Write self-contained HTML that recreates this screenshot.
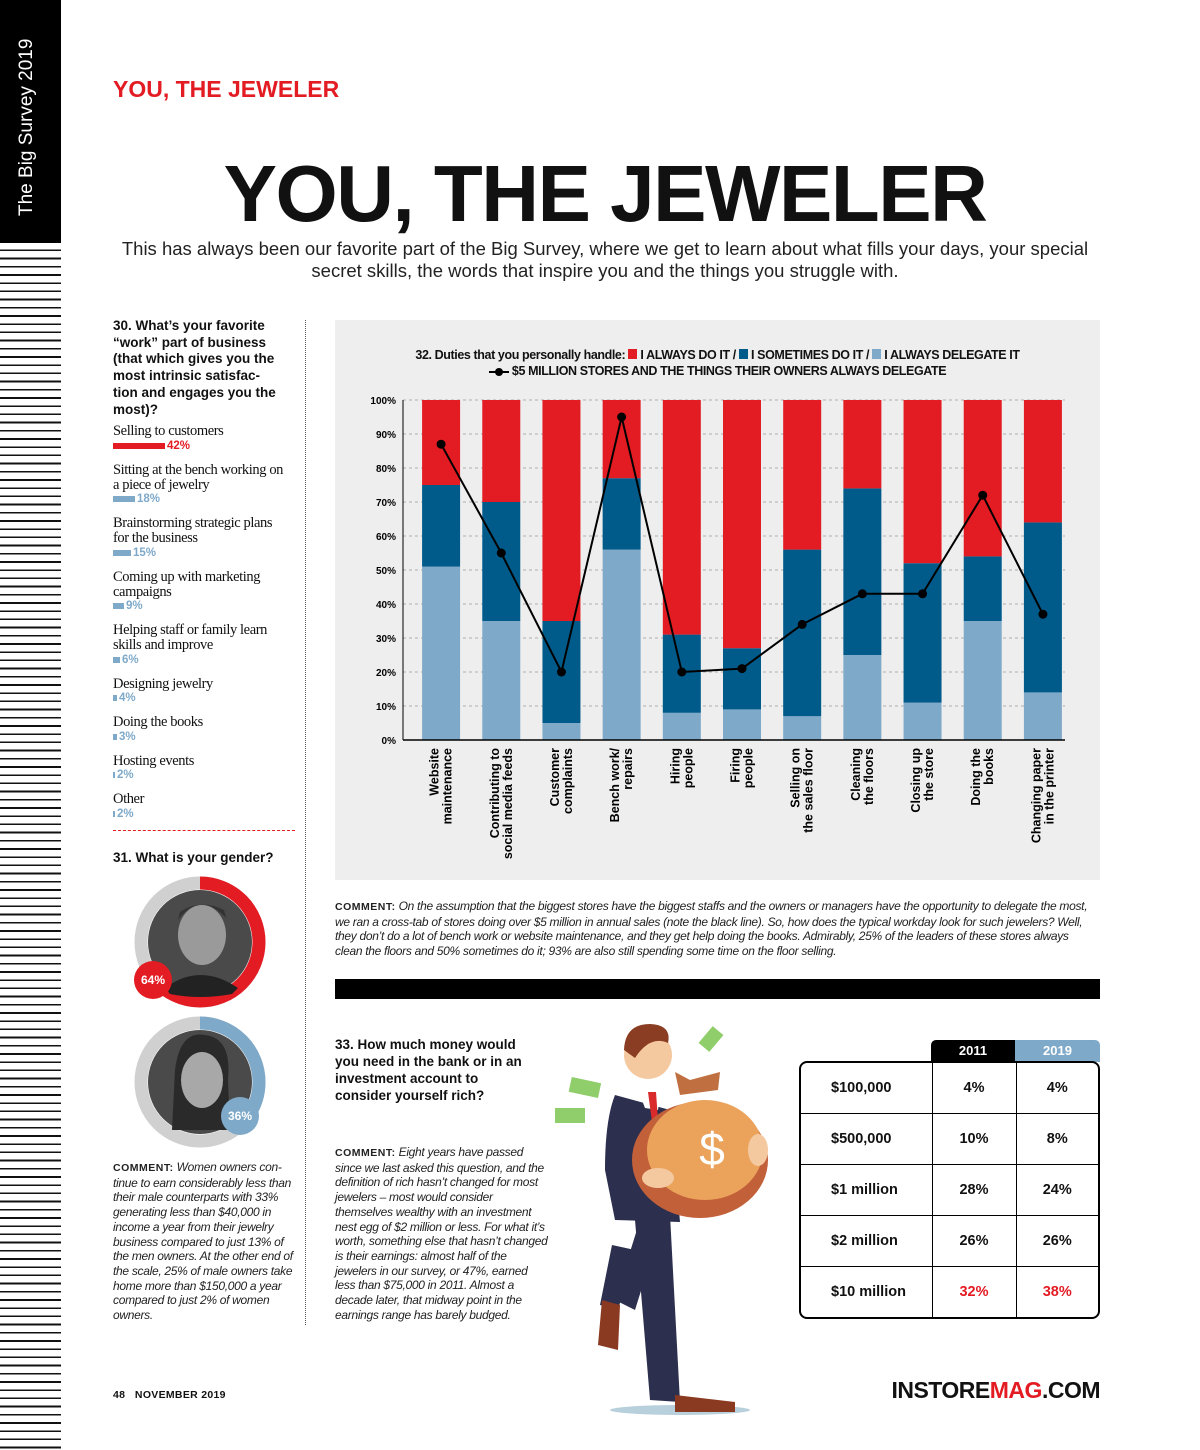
<!DOCTYPE html>
<html><head><meta charset="utf-8">
<style>
*{margin:0;padding:0;box-sizing:border-box}
body{width:1200px;height:1450px;background:#fff;position:relative;overflow:hidden;font-family:"Liberation Sans",sans-serif;color:#111}
.abs{position:absolute}
.stripes{left:0;top:243px;width:61px;height:1207px;background:repeating-linear-gradient(to bottom,#fff 0,#fff 6.5px,#111 6.5px,#111 8.2px)}
.q{font-weight:bold;font-size:13.5px;line-height:16.7px}
.opt{font-family:"Liberation Serif",serif;font-size:14.5px;line-height:15px;letter-spacing:-0.4px}
.barrow{display:flex;align-items:center;font-weight:bold;font-size:11.5px;color:#7fa9c9;height:13px}
.barrow span.b{display:inline-block;height:6px;background:#7fa9c9;margin-right:2px}
.cm{font-style:italic;font-size:12px;line-height:14.7px;letter-spacing:-0.3px;color:#222}
.cm b{font-style:normal;font-size:10.5px;letter-spacing:0.5px}
.sp{margin-top:10.5px}
table{border-collapse:collapse}
</style></head><body>
<div class="abs" style="left:0;top:0;width:61px;height:243px;background:#000"></div>
<div class="abs" style="left:16px;top:216px;transform:rotate(-90deg);transform-origin:0 0;color:#fff;font-size:19px;white-space:nowrap;width:200px">The Big Survey 2019</div>
<div class="abs stripes"></div>

<div class="abs" style="left:113px;top:76px;color:#e31b23;font-weight:bold;font-size:23px;letter-spacing:0">YOU, THE JEWELER</div>
<div class="abs" style="left:0;width:1210px;text-align:center;top:148px;font-weight:bold;font-size:80px;letter-spacing:-1.5px">YOU, THE JEWELER</div>
<div class="abs" style="left:100px;width:1010px;text-align:center;top:238px;font-size:18.5px;line-height:22px;color:#222">This has always been our favorite part of the Big Survey, where we get to learn about what fills your days, your special secret skills, the words that inspire you and the things you struggle with.</div>

<div class="abs" style="left:305px;top:320px;height:1005px;border-left:1px dotted #555"></div>

<div class="abs q" style="left:113px;top:318px;width:180px">30. What’s your favorite “work” part of business (that which gives you the most intrinsic satisfac-<br>tion and engages you the most)?</div>
<div class="abs" style="left:113px;top:424px;width:178px">
<div class="opt">Selling to customers</div><div class="barrow" style="color:#e31b23"><span class="b" style="width:52px;background:#e31b23"></span>42%</div>
<div class="opt sp">Sitting at the bench working on a piece of jewelry</div><div class="barrow"><span class="b" style="width:22px"></span>18%</div>
<div class="opt sp">Brainstorming strategic plans for the business</div><div class="barrow"><span class="b" style="width:18px"></span>15%</div>
<div class="opt sp">Coming up with marketing campaigns</div><div class="barrow"><span class="b" style="width:11px"></span>9%</div>
<div class="opt sp">Helping staff or family learn skills and improve</div><div class="barrow"><span class="b" style="width:7px"></span>6%</div>
<div class="opt sp">Designing jewelry</div><div class="barrow"><span class="b" style="width:4px"></span>4%</div>
<div class="opt sp">Doing the books</div><div class="barrow"><span class="b" style="width:4px"></span>3%</div>
<div class="opt sp">Hosting events</div><div class="barrow"><span class="b" style="width:2px"></span>2%</div>
<div class="opt sp">Other</div><div class="barrow"><span class="b" style="width:2px"></span>2%</div>
</div>
<div class="abs" style="left:113px;top:830px;width:182px;border-top:1px dashed #e31b23"></div>
<div class="abs q" style="left:113px;top:850px">31. What is your gender?</div>

<svg class="abs" style="left:120px;top:870px" width="170" height="290">
 <circle cx="80" cy="72" r="59" fill="none" stroke="#d0d0d0" stroke-width="13"/>
 <circle cx="80" cy="72" r="59" fill="none" stroke="#e31b23" stroke-width="13" stroke-dasharray="237.2 400" transform="rotate(-90 80 72)"/>
 <circle cx="80" cy="72" r="52" fill="#4a4a4a"/>
 <ellipse cx="82" cy="65" rx="24" ry="30" fill="#9a9a9a"/>
 <path d="M58 50 Q80 20 106 48 L104 40 Q80 28 60 42Z" fill="#333"/>
 <path d="M45 118 Q80 92 118 118 L112 124 Q80 130 50 124Z" fill="#222"/>
 <circle cx="33" cy="110" r="19" fill="#e31b23"/>
 <text x="33" y="114" text-anchor="middle" fill="#fff" font-weight="bold" font-size="12" font-family="Liberation Sans">64%</text>
 <circle cx="80" cy="212" r="59" fill="none" stroke="#d0d0d0" stroke-width="13"/>
 <circle cx="80" cy="212" r="59" fill="none" stroke="#7fa9c9" stroke-width="13" stroke-dasharray="133.4 400" transform="rotate(-90 80 212)"/>
 <circle cx="80" cy="212" r="52" fill="#4a4a4a"/>
 <path d="M55 200 Q60 160 85 165 Q112 168 108 210 L110 260 L52 260Z" fill="#2a2a2a"/>
 <ellipse cx="82" cy="210" rx="21" ry="28" fill="#a8a8a8"/>
 <circle cx="120" cy="246" r="19" fill="#7fa9c9"/>
 <text x="120" y="250" text-anchor="middle" fill="#fff" font-weight="bold" font-size="12" font-family="Liberation Sans">36%</text>
</svg>

<div class="abs cm" style="left:113px;top:1160px;width:185px"><b>COMMENT:</b> Women owners con-tinue to earn considerably less than their male counterparts with 33% generating less than $40,000 in income a year from their jewelry business compared to just 13% of the men owners. At the other end of the scale, 25% of male owners take home more than $150,000 a year compared to just 2% of women owners.</div>

<div class="abs" style="left:335px;top:320px;width:765px;height:560px;background:#eeeeee"></div>
<div class="abs" style="left:335px;width:765px;top:347px;text-align:center;font-weight:bold;font-size:12.5px;line-height:16px;letter-spacing:-0.4px">32. Duties that you personally handle: <span style="display:inline-block;width:9px;height:10px;background:#e31b23"></span> I ALWAYS DO IT / <span style="display:inline-block;width:9px;height:10px;background:#005b8a"></span> I SOMETIMES DO IT / <span style="display:inline-block;width:9px;height:10px;background:#7fa9c9"></span> I ALWAYS DELEGATE IT<br><span style="display:inline-block;width:20px;border-top:2px solid #000;vertical-align:middle;position:relative"><span style="position:absolute;left:6px;top:-5px;width:8px;height:8px;border-radius:50%;background:#000"></span></span> $5 MILLION STORES AND THE THINGS THEIR OWNERS ALWAYS DELEGATE</div>
<svg id="chart" class="abs" style="left:335px;top:320px" width="765" height="560"></svg>

<div class="abs cm" style="left:335px;top:899px;width:762px"><b>COMMENT:</b> On the assumption that the biggest stores have the biggest staffs and the owners or managers have the opportunity to delegate the most, we ran a cross-tab of stores doing over $5 million in annual sales (note the black line). So, how does the typical workday look for such jewelers? Well, they don’t do a lot of bench work or website maintenance, and they get help doing the books. Admirably, 25% of the leaders of these stores always clean the floors and 50% sometimes do it; 93% are also still spending some time on the floor selling.</div>
<div class="abs" style="left:335px;top:979px;width:765px;height:20px;background:#000"></div>

<div class="abs q" style="left:335px;top:1036px;width:200px;font-size:13.5px;line-height:17px">33. How much money would you need in the bank or in an investment account to consider yourself rich?</div>
<div class="abs cm" style="left:335px;top:1145px;width:215px"><b>COMMENT:</b> Eight years have passed since we last asked this question, and the definition of rich hasn’t changed for most jewelers – most would consider themselves wealthy with an investment nest egg of $2 million or less. For what it’s worth, something else that hasn’t changed is their earnings: almost half of the jewelers in our survey, or 47%, earned less than $75,000 in 2011. Almost a decade later, that midway point in the earnings range has barely budged.</div>

<svg class="abs" style="left:540px;top:1010px" width="250" height="420">
 <ellipse cx="140" cy="400" rx="70" ry="5" fill="#b8d0dc"/>
 <rect x="30" y="70" width="30" height="15" fill="#8fce6a" transform="rotate(12 45 77)"/>
 <rect x="15" y="98" width="30" height="15" fill="#8fce6a"/>
 <rect x="160" y="22" width="22" height="14" fill="#8fce6a" transform="rotate(-50 171 29)"/>
 <path d="M72 235 L60 295 L78 300 L95 240Z" fill="#2c2f4d"/>
 <path d="M62 290 L58 335 L78 340 L80 295Z" fill="#8b3a22"/>
 <path d="M95 210 L110 390 L140 392 L130 205Z" fill="#2c2f4d"/>
 <path d="M100 210 L75 290 L95 300 L120 220Z" fill="#2c2f4d"/>
 <path d="M135 385 L195 392 L195 402 L135 402Z" fill="#8b3a22"/>
 <path d="M75 85 Q65 110 65 160 L75 210 L140 212 L130 100 Z" fill="#2c2f4d"/>
 <path d="M98 80 L120 85 L118 100 L105 98Z" fill="#fff"/>
 <path d="M108 82 L116 82 L118 110 L112 112Z" fill="#d92b2b"/>
 <circle cx="108" cy="45" r="24" fill="#f5c9a0"/>
 <path d="M84 40 Q85 14 110 14 Q132 15 128 33 Q110 25 95 48Z" fill="#8a3d22"/>
 <path d="M135 62 L150 70 L180 62 L178 80 L140 85Z" fill="#c07040"/>
 <ellipse cx="160" cy="150" rx="68" ry="58" fill="#c2603a"/>
 <ellipse cx="165" cy="140" rx="58" ry="50" fill="#eba35c"/>
 <text x="172" y="155" text-anchor="middle" fill="#fff" font-size="46" font-family="Liberation Sans">$</text>
 <ellipse cx="118" cy="168" rx="16" ry="10" fill="#f5c9a0"/>
 <ellipse cx="218" cy="140" rx="10" ry="16" fill="#f5c9a0"/>
</svg>

<div class="abs" style="left:931px;top:1040px;width:84px;height:22px;background:#000;color:#fff;font-weight:bold;font-size:13px;text-align:center;line-height:22px;border-radius:5px 0 0 0">2011</div>
<div class="abs" style="left:1015px;top:1040px;width:85px;height:22px;background:#7fa9c9;color:#fff;font-weight:bold;font-size:13px;text-align:center;line-height:22px;border-radius:0 5px 0 0">2019</div>
<div class="abs" style="left:799px;top:1061px;width:301px;height:258px;border:2px solid #000;border-radius:8px;overflow:hidden">
<table style="width:100%;height:100%;font-weight:bold;font-size:14.5px">
<tr style="height:20%;border-bottom:1px solid #000"><td style="width:131px;padding-left:30px">$100,000</td><td style="width:84px;text-align:center;border-left:1px solid #000">4%</td><td style="text-align:center;border-left:1px solid #000">4%</td></tr>
<tr style="height:20%;border-bottom:1px solid #000"><td style="padding-left:30px">$500,000</td><td style="text-align:center;border-left:1px solid #000">10%</td><td style="text-align:center;border-left:1px solid #000">8%</td></tr>
<tr style="height:20%;border-bottom:1px solid #000"><td style="padding-left:30px">$1 million</td><td style="text-align:center;border-left:1px solid #000">28%</td><td style="text-align:center;border-left:1px solid #000">24%</td></tr>
<tr style="height:20%;border-bottom:1px solid #000"><td style="padding-left:30px">$2 million</td><td style="text-align:center;border-left:1px solid #000">26%</td><td style="text-align:center;border-left:1px solid #000">26%</td></tr>
<tr style="height:20%"><td style="padding-left:30px">$10 million</td><td style="text-align:center;border-left:1px solid #000;color:#e31b23">32%</td><td style="text-align:center;border-left:1px solid #000;color:#e31b23">38%</td></tr>
</table></div>

<div class="abs" style="left:113px;top:1389px;font-size:10.5px;font-weight:bold;letter-spacing:0.3px">48&nbsp;&nbsp;&nbsp;NOVEMBER 2019</div>
<div class="abs" style="right:100px;top:1377px;font-weight:bold;font-size:23px;letter-spacing:-0.5px">INSTORE<span style="color:#e31b23">MAG</span>.COM</div>

<script>
const categories=["Website|maintenance","Contributing to|social media feeds","Customer|complaints","Bench work/|repairs","Hiring|people","Firing|people","Selling on|the sales floor","Cleaning|the floors","Closing up|the store","Doing the|books","Changing paper|in the printer"];
const delegateVals=[51,35,5,56,8,9,7,25,11,35,14];
const sometimesVals=[24,35,30,21,23,18,49,49,41,19,50];
const alwaysVals=[25,30,65,23,69,73,44,26,48,46,36];
const bigStoreVals=[87,55,20,95,20,21,34,43,43,72,37];
const yTicks=[0,10,20,30,40,50,60,70,80,90,100];
const NS="http://www.w3.org/2000/svg";
const svg=document.getElementById('chart');
const X0=68,X1=730,Y0=420,Y1=80;
const step=(X1-X0)/categories.length;
const bw=38;
function x(i){return X0+step*(i+0.5)+8;}
function y(v){return Y0-(Y0-Y1)*v/100;}
function mk(t,a){const e=document.createElementNS(NS,t);for(const k in a)e.setAttribute(k,a[k]);svg.appendChild(e);return e;}
yTicks.forEach(t=>{
 const g=mk('line',{x1:X0,x2:X1,y1:y(t),y2:y(t),stroke:'#999','stroke-dasharray':'3 3','stroke-width':0.8});
 
 
 const l=mk('text',{x:X0-7,y:y(t)+4,'text-anchor':'end','font-size':10,'font-weight':'bold','font-family':'Liberation Sans'});
 l.textContent=t+'%';
 
 
});
categories.forEach((c,i)=>{
 const segs=[[0,delegateVals[i],'#7fa9c9'],[delegateVals[i],delegateVals[i]+sometimesVals[i],'#005b8a'],[delegateVals[i]+sometimesVals[i],delegateVals[i]+sometimesVals[i]+alwaysVals[i],'#e31b23']];
 segs.forEach((s,j)=>{
  const r=mk('rect',{x:x(i)-bw/2,y:y(s[1]),width:bw,height:y(s[0])-y(s[1]),fill:s[2]});
  
  
 });
 const lines=c.split('|');
 const tx=mk('text',{transform:`translate(${x(i)},${Y0+8}) rotate(-90)`,'text-anchor':'end','font-size':12.5,'font-weight':'bold','font-family':'Liberation Sans'});
 
 
 lines.forEach((ln,k)=>{const ts=document.createElementNS(NS,'tspan');ts.setAttribute('x',0);ts.setAttribute('y',(k-(lines.length-1)/2)*13+4);ts.textContent=ln;tx.appendChild(ts);});
});
const ax=mk('line',{x1:X0,x2:X1,y1:Y0,y2:Y0,stroke:'#000','stroke-width':1.5});


const ay=mk('line',{x1:X0,x2:X0,y1:Y1,y2:Y0,stroke:'#000','stroke-width':1});


const pl=mk('polyline',{points:bigStoreVals.map((v,i)=>x(i)+','+y(v)).join(' '),fill:'none',stroke:'#000','stroke-width':2});


bigStoreVals.forEach((v,i)=>{
 const p=mk('circle',{cx:x(i),cy:y(v),r:4.5,fill:'#000'});
 
 
});
</script>
</body></html>
